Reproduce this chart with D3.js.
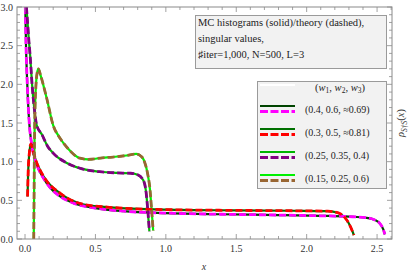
<!DOCTYPE html>
<html><head><meta charset="utf-8">
<script src="https://cdn.jsdelivr.net/npm/d3@7"></script>
<style>body{margin:0;background:#fff}svg{display:block}text{font-family:"Liberation Serif","DejaVu Serif",serif}</style>
</head><body>
<svg id="c" width="415" height="274"></svg>
<script>
// ---- data ----
const xTicks = [0.0, 0.5, 1.0, 1.5, 2.0, 2.5];
const yTicks = [0.0, 0.5, 1.0, 1.5, 2.0, 2.5, 3.0];
const seriesLabels = ["(0.4, 0.6, \u22480.69)", "(0.3, 0.5, \u22480.81)", "(0.25, 0.35, 0.4)", "(0.15, 0.25, 0.6)"];
const solidColors = ["#004400", "#007000", "#00b400", "#00f000"];
const dashColors = ["#ff00ff", "#ff0000", "#800080", "#996633"];
// series 1 (w=(0.4,0.6,~0.69))
const s1x = [0.002,0.007,0.016,0.03,0.045,0.06,0.09,0.13,0.18,0.25,0.35,0.5,0.7,1.0,1.4,1.8,2.1,2.3,2.42,2.48,2.52,2.545,2.555];
const s1y = [3.0,2.5,2.0,1.5,1.25,1.1,0.93,0.79,0.66,0.55,0.46,0.40,0.36,0.335,0.32,0.31,0.30,0.29,0.275,0.25,0.2,0.12,0.06];
// series 2 (w=(0.3,0.5,~0.81))
const s2x = [0.018,0.022,0.03,0.042,0.055,0.08,0.107,0.15,0.25,0.41,0.6,1.0,1.5,1.9,2.15,2.22,2.27,2.3,2.325,2.335];
const s2y = [0.55,0.85,1.1,1.23,1.15,1.0,0.89,0.76,0.59,0.45,0.41,0.38,0.37,0.365,0.36,0.34,0.28,0.2,0.1,0.05];
// series 3 (w=(0.25,0.35,0.4))
const s3x = [0.010,0.014,0.02,0.028,0.036,0.05,0.065,0.083,0.12,0.16,0.2,0.3,0.4,0.53,0.65,0.75,0.8,0.84,0.86,0.87,0.883];
const s3y = [3.0,2.9,2.75,2.55,2.38,2.0,1.7,1.47,1.35,1.2,1.11,0.98,0.91,0.87,0.855,0.85,0.83,0.76,0.6,0.41,0.1];
// series 4 (w=(0.15,0.25,0.6))
const s4x = [0.062,0.064,0.066,0.068,0.072,0.078,0.086,0.095,0.11,0.154,0.2,0.25,0.3,0.39,0.45,0.55,0.625,0.72,0.79,0.83,0.85,0.87,0.888,0.9,0.91];
const s4y = [0.0,0.5,1.0,1.4,1.75,2.0,2.15,2.2,2.12,1.82,1.47,1.3,1.18,1.045,1.03,1.05,1.06,1.08,1.1,1.06,0.99,0.85,0.63,0.35,0.11];

const xs = [s1x, s2x, s3x, s4x], ys = [s1y, s2y, s3y, s4y];

// ---- layout ----
const svg = d3.select("#c");
const L = 17, R = 392, T = 7, B = 239;
const x = d3.scaleLinear().domain([-0.057, 2.606]).range([L, R]);
const y = d3.scaleLinear().domain([0, 3]).range([B, T]);

svg.append("clipPath").attr("id","clip").append("rect").attr("x",L).attr("y",T).attr("width",R-L).attr("height",B-T);

const line = d3.line().x(d=>x(d[0])).y(d=>y(d[1])).curve(d3.curveMonotoneX);
const g = svg.append("g").attr("clip-path","url(#clip)");
const data = xs.map((xx,i)=>xx.map((v,j)=>[v, ys[i][j]]));
data.forEach((d,i)=>{
  g.append("path").attr("d",line(d)).attr("fill","none").attr("stroke",solidColors[i]).attr("stroke-width",2.2);
});
data.forEach((d,i)=>{
  g.append("path").attr("d",line(d)).attr("fill","none").attr("stroke",dashColors[i]).attr("stroke-width",2.8).attr("stroke-dasharray","7,3");
});

// frame & ticks
const frameColor = "#8a8a8a";
svg.append("rect").attr("x",L).attr("y",T).attr("width",R-L).attr("height",B-T).attr("fill","none").attr("stroke",frameColor).attr("stroke-width",1);
const minorX = d3.range(0, 27).map(i=>i/10).filter(v=>v<=2.6);
const minorY = d3.range(0, 31).map(i=>i/10);
const tg = svg.append("g").attr("stroke",frameColor).attr("stroke-width",0.8);
minorX.forEach(v=>{
  const major = Math.abs(v*2-Math.round(v*2))<1e-6;
  const len = major?5:3;
  tg.append("line").attr("x1",x(v)).attr("x2",x(v)).attr("y1",B).attr("y2",B-len);
  tg.append("line").attr("x1",x(v)).attr("x2",x(v)).attr("y1",T).attr("y2",T+len);
});
minorY.forEach(v=>{
  const major = Math.abs(v*2-Math.round(v*2))<1e-6;
  const len = major?5:3;
  tg.append("line").attr("x1",L).attr("x2",L+len).attr("y1",y(v)).attr("y2",y(v));
  tg.append("line").attr("x1",R).attr("x2",R-len).attr("y1",y(v)).attr("y2",y(v));
});
const labColor = "#333";
svg.selectAll(".xt").data(xTicks).enter().append("text").attr("x",d=>x(d)).attr("y",252)
  .attr("text-anchor","middle").attr("font-size",10).attr("fill",labColor).text(d=>d.toFixed(1));
svg.selectAll(".yt").data(yTicks).enter().append("text").attr("x",13).attr("y",d=>y(d)+3.5)
  .attr("text-anchor","end").attr("font-size",10).attr("fill",labColor).text(d=>d.toFixed(1));

// axis labels
svg.append("text").attr("x",204).attr("y",270).attr("text-anchor","middle").attr("font-size",10)
  .attr("font-style","italic").attr("fill",labColor).text("x");
const yl = svg.append("text").attr("transform","translate(404,123) rotate(-90)").attr("text-anchor","middle")
  .attr("font-size",10.5).attr("fill",labColor);
yl.append("tspan").attr("font-style","italic").text("\u03c1");
yl.append("tspan").attr("font-size",7.5).attr("font-style","italic").attr("dy",2.5).text("S\u2020S");
yl.append("tspan").attr("dy",-2.5).text("(");
yl.append("tspan").attr("font-style","italic").text("x");
yl.append("tspan").text(")");

// legend 1
svg.append("rect").attr("x",195.5).attr("y",15.5).attr("width",191).attr("height",53).attr("fill","#f2f2f2").attr("stroke","#9a9a9a");
const l1 = ["MC histograms (solid)/theory (dashed),", "singular values,", "\u266fiter=1,000, N=500, L=3"];
svg.selectAll(".l1").data(l1).enter().append("text").attr("x",198).attr("y",(d,i)=>26+i*16)
  .attr("font-size",10.5).attr("fill","#222").text(d=>d);

// legend 2
svg.append("rect").attr("x",257.5).attr("y",81.5).attr("width",129).attr("height",107).attr("fill","#f2f2f2").attr("stroke","#9a9a9a");
svg.append("line").attr("x1",260).attr("x2",295).attr("y1",85).attr("y2",85).attr("stroke","#fff").attr("stroke-width",2);
const hd = svg.append("text").attr("x",340).attr("y",91).attr("text-anchor","middle").attr("font-size",10.5).attr("fill","#222");
hd.append("tspan").text("(");
[1,2,3].forEach((k,i)=>{
  hd.append("tspan").attr("font-style","italic").text("w");
  hd.append("tspan").attr("font-size",7.5).attr("dy",2).text(k);
  hd.append("tspan").attr("dy",-2).text(i<2?", ":")");
});
seriesLabels.forEach((s,i)=>{
  const yy = 106 + 23*i;
  svg.append("line").attr("x1",260).attr("x2",295).attr("y1",yy).attr("y2",yy).attr("stroke",solidColors[i]).attr("stroke-width",2.2);
  svg.append("line").attr("x1",260).attr("x2",295).attr("y1",yy+5.5).attr("y2",yy+5.5).attr("stroke",dashColors[i]).attr("stroke-width",2.8).attr("stroke-dasharray","8,2.5");
  svg.append("text").attr("x",305).attr("y",yy+6.5).attr("font-size",10).attr("fill","#222").text(s);
});
</script>
</body></html>
